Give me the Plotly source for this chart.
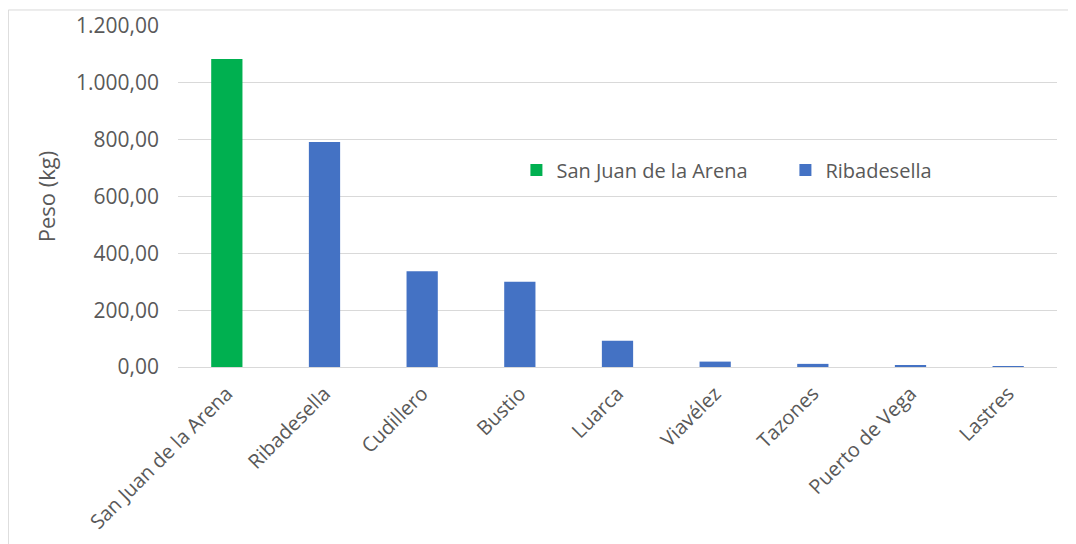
import plotly.graph_objects as go

categories = ["San Juan de la Arena", "Ribadesella", "Cudillero", "Bustio", "Luarca",
              "Viavélez", "Tazones", "Puerto de Vega", "Lastres"]
values = [1084, 792, 337, 300, 92, 19, 11, 5, 1]
green_cats = categories[:1]
green_vals = values[:1]
blue_cats = categories[1:]
blue_vals = values[1:]
yticks = [0, 200, 400, 600, 800, 1000, 1200]

fig = go.Figure()
fig.add_trace(go.Bar(x=green_cats, y=green_vals, name="San Juan de la Arena",
                     marker=dict(color="#00B050", line=dict(width=0)), width=0.32))
fig.add_trace(go.Bar(x=blue_cats, y=blue_vals, name="Ribadesella",
                     marker=dict(color="#4472C4", line=dict(width=0)), width=0.32))

FONT = "Open Sans, Liberation Sans, sans-serif"
fig.update_layout(
    width=1068, height=536,
    paper_bgcolor="white", plot_bgcolor="white",
    margin=dict(l=170, r=19, t=18, b=177, autoexpand=False),
    separators=",.",
    barmode="overlay",
    font=dict(family=FONT, color="#595959", size=20),
    legend=dict(orientation="h", x=0.385, y=0.578, xanchor="left", yanchor="middle",
                font=dict(family=FONT, size=20, color="#595959"), bgcolor="rgba(0,0,0,0)",
                traceorder="normal", itemwidth=30, entrywidth=224, entrywidthmode="pixels"),
    showlegend=True,
    shapes=[dict(type="rect", xref="paper", yref="paper", x0=-0.193, x1=1.03,
                 y0=-0.6, y1=1.047, line=dict(color="#D9D9D9", width=1), layer="below")],
)
fig.update_xaxes(categoryorder="array", categoryarray=categories, tickangle=-45,
                 showline=True, linecolor="#D9D9D9", linewidth=1, ticks="",
                 ticklabelstandoff=6,
                 tickfont=dict(family=FONT, size=20, color="#595959"), showgrid=False)
fig.update_yaxes(range=[0, 1200], tickvals=yticks, tickformat=",.2f",
                 showgrid=True, gridcolor="#D9D9D9", gridwidth=1, zeroline=False,
                 ticklabelstandoff=18,
                 title=dict(text="Peso (kg)", font=dict(family=FONT, size=22, color="#595959"), standoff=14),
                 tickfont=dict(family=FONT, size=21, color="#595959"), ticks="", ticklen=0)

fig.write_html("out.html")
